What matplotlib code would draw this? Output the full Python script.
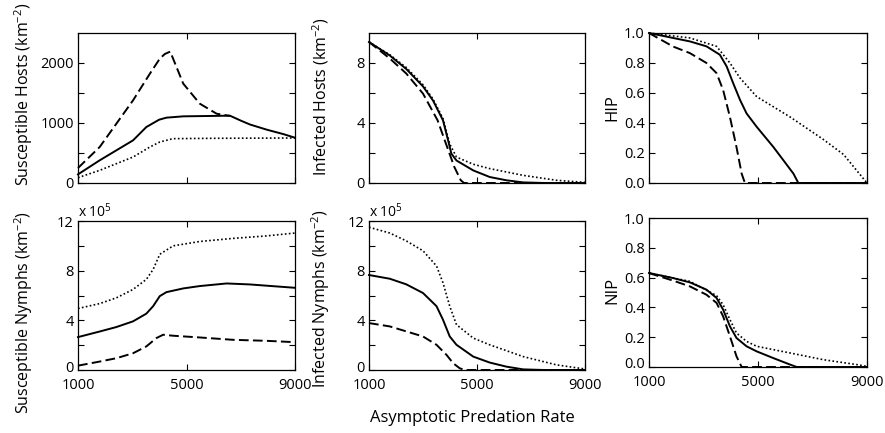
import numpy as np
import matplotlib
matplotlib.use("Agg")
import matplotlib.pyplot as plt
import matplotlib.transforms as mtransforms

plt.rcParams['font.family'] = ['Open Sans', 'DejaVu Sans']
plt.rcParams['mathtext.fontset'] = 'custom'
plt.rcParams['mathtext.rm'] = 'Open Sans'
plt.rcParams['mathtext.it'] = 'Open Sans'

# ---------------------------------------------------------------------------
# Data (x = asymptotic predation rate)
# ---------------------------------------------------------------------------
# Susceptible Hosts (km^-2)
sh_solid_x = [1000, 1800, 3030, 3520, 3990, 4260, 4880, 6600, 7000, 7340, 7950, 8570, 9000]
sh_solid_y = [144, 378, 711, 933, 1055, 1089, 1111, 1122, 1040, 975, 890, 815, 755]
sh_dash_x = [1000, 1800, 3030, 3650, 4015, 4200, 4400, 4880, 5490, 6110, 6600]
sh_dash_y = [250, 600, 1378, 1822, 2072, 2150, 2190, 1656, 1322, 1155, 1118]
sh_dot_x = [1000, 1800, 3030, 3650, 4015, 4500, 6000, 9000]
sh_dot_y = [89, 211, 433, 600, 683, 739, 745, 750]

# Infected Hosts (km^-2)
ih_solid_x = [1000, 1770, 2380, 3000, 3370, 3740, 3930, 4050, 4240, 4860, 5470, 6090, 6710, 7500, 9000]
ih_solid_y = [9.4, 8.5, 7.6, 6.44, 5.5, 4.18, 2.84, 1.96, 1.5, 0.84, 0.4, 0.18, 0.04, 0, 0]
ih_dash_x = [1000, 1770, 2380, 3000, 3540, 3850, 4160, 4400, 4520, 9000]
ih_dash_y = [9.4, 8.3, 7.3, 5.96, 4.18, 2.62, 1.07, 0.18, 0, 0]
ih_dot_x = [1000, 1770, 2380, 3000, 3370, 3740, 3990, 4240, 4860, 5470, 6710, 7950, 9000]
ih_dot_y = [9.4, 8.55, 7.7, 6.55, 5.6, 4.3, 2.6, 1.73, 1.25, 0.96, 0.51, 0.18, 0.04]

# HIP
hip_solid_x = [1000, 1880, 2500, 3110, 3600, 3850, 4090, 4340, 4580, 4950, 5560, 5930, 6300, 6480, 9000]
hip_solid_y = [1.0, 0.967, 0.944, 0.911, 0.855, 0.777, 0.665, 0.554, 0.464, 0.375, 0.241, 0.152, 0.0625, 0, 0]
hip_dash_x = [1000, 1880, 2500, 3110, 3480, 3720, 3970, 4210, 4400, 4520, 9000]
hip_dash_y = [1.0, 0.91, 0.866, 0.8, 0.732, 0.62, 0.44, 0.24, 0.0625, 0, 0]
hip_dot_x = [1000, 2500, 3480, 3970, 4340, 4950, 6180, 7400, 8140, 9000]
hip_dot_y = [1.0, 0.967, 0.911, 0.8, 0.70, 0.576, 0.44, 0.29, 0.19, 0.0]

# Susceptible Nymphs (x 10^5 km^-2)
sn_solid_x = [1000, 1800, 2415, 3030, 3520, 3770, 4015, 4260, 4880, 5490, 6480, 7340, 9000]
sn_solid_y = [2.65, 3.1, 3.46, 3.92, 4.54, 5.14, 5.95, 6.27, 6.57, 6.76, 6.97, 6.89, 6.62]
sn_dash_x = [1000, 1800, 2415, 3030, 3520, 3890, 4140, 4510, 5490, 6720, 7950, 9000]
sn_dash_y = [0.35, 0.68, 0.95, 1.35, 1.9, 2.57, 2.84, 2.76, 2.62, 2.43, 2.35, 2.24]
sn_dot_x = [1000, 1800, 2415, 3030, 3520, 3770, 4015, 4510, 5490, 6720, 7950, 9000]
sn_dot_y = [4.95, 5.35, 5.81, 6.49, 7.3, 8.1, 9.32, 10.0, 10.35, 10.6, 10.8, 11.03]

# Infected Nymphs (x 10^5 km^-2)
in_solid_x = [1000, 1770, 2380, 3000, 3500, 3740, 3990, 4240, 4860, 5470, 6090, 6710, 7500, 9000]
in_solid_y = [7.65, 7.35, 6.9, 6.2, 5.14, 4.05, 2.7, 2.03, 1.08, 0.6, 0.27, 0.05, 0, 0]
in_dash_x = [1000, 1770, 2380, 3000, 3500, 3870, 4120, 4360, 4550, 9000]
in_dash_y = [3.78, 3.51, 3.11, 2.7, 2.03, 1.22, 0.54, 0.14, 0, 0]
in_dot_x = [1000, 1770, 2380, 3000, 3500, 3740, 3990, 4240, 4860, 5470, 6710, 7950, 9000]
in_dot_y = [11.5, 11.03, 10.4, 9.6, 8.38, 7.03, 5.14, 3.65, 2.57, 2.03, 1.08, 0.41, 0.08]

# NIP
nip_solid_x = [1000, 1880, 2500, 3110, 3480, 3720, 3970, 4210, 4580, 4950, 5560, 6180, 6420, 9000]
nip_solid_y = [0.631, 0.597, 0.568, 0.519, 0.463, 0.385, 0.273, 0.195, 0.139, 0.105, 0.06, 0.016, 0, 0]
nip_dash_x = [1000, 1880, 2500, 3110, 3480, 3720, 3970, 4210, 4400, 9000]
nip_dash_y = [0.63, 0.58, 0.541, 0.485, 0.43, 0.34, 0.206, 0.072, 0, 0]
nip_dot_x = [1000, 2500, 3480, 3720, 3970, 4210, 4580, 4950, 6180, 7400, 8630, 9000]
nip_dot_y = [0.63, 0.575, 0.479, 0.418, 0.318, 0.228, 0.172, 0.139, 0.094, 0.049, 0.016, 0.004]

# ---------------------------------------------------------------------------
W, H = 885, 433
fig = plt.figure(figsize=(W / 100, H / 100), dpi=100)


def px_axes(x0, y0, x1, y1):
    # pixel box (left, top, right, bottom) -> figure axes
    return fig.add_axes([x0 / W, 1 - y1 / H, (x1 - x0) / W, (y1 - y0) / H])


def style(ax, ylim, yticks, ylabels, show_x):
    ax.set_xlim(1000, 9000)
    ax.set_ylim(*ylim)
    ax.set_xticks([1000, 5000, 9000])
    ax.set_xticklabels(['1000', '5000', '9000'] if show_x else [])
    ax.set_yticks(yticks)
    ax.set_yticklabels(ylabels)
    ax.tick_params(direction='in', length=4, width=0.8, top=True, right=True,
                   labelsize=10.5)
    ax.tick_params(axis='y', pad=3)
    ax.tick_params(axis='x', pad=6)
    for s in ax.spines.values():
        s.set_linewidth(0.9)
    if show_x:
        # lift the lowest y label a little so it clears the x labels
        lab = ax.get_yticklabels()[0]
        lab.set_transform(lab.get_transform() +
                          mtransforms.ScaledTranslation(0, 4 / 100, fig.dpi_scale_trans))


def draw(ax, solid, dash, dot):
    ax.plot(dot[0], dot[1], color='k', lw=1.2, dashes=(1, 1.4), clip_on=False)
    ax.plot(dash[0], dash[1], color='k', lw=1.4, dashes=(5, 2.2), clip_on=False)
    ax.plot(solid[0], solid[1], color='k', lw=1.4, clip_on=False)


# top row
ax1 = px_axes(78, 33, 295, 183)
draw(ax1, (sh_solid_x, sh_solid_y), (sh_dash_x, sh_dash_y), (sh_dot_x, sh_dot_y))
style(ax1, (0, 2500), [0, 500, 1000, 1500, 2000], ['0', '', '1000', '', '2000'], False)

ax2 = px_axes(369, 33, 585, 183)
draw(ax2, (ih_solid_x, ih_solid_y), (ih_dash_x, ih_dash_y), (ih_dot_x, ih_dot_y))
style(ax2, (0, 10), [0, 2, 4, 6, 8], ['0', '', '4', '', '8'], False)

ax3 = px_axes(649, 33, 867, 183)
draw(ax3, (hip_solid_x, hip_solid_y), (hip_dash_x, hip_dash_y), (hip_dot_x, hip_dot_y))
style(ax3, (0, 1), np.arange(0, 1.01, 0.2), ['0.0', '0.2', '0.4', '0.6', '0.8', '1.0'], False)

# bottom row
ax4 = px_axes(78, 221, 295, 370)
draw(ax4, (sn_solid_x, sn_solid_y), (sn_dash_x, sn_dash_y), (sn_dot_x, sn_dot_y))
style(ax4, (0, 12), [0, 2, 4, 6, 8, 10, 12], ['0', '', '4', '', '8', '', '12'], True)

ax5 = px_axes(369, 221, 585, 370)
draw(ax5, (in_solid_x, in_solid_y), (in_dash_x, in_dash_y), (in_dot_x, in_dot_y))
style(ax5, (0, 12), [0, 2, 4, 6, 8, 10, 12], ['0', '', '4', '', '8', '', '12'], True)

ax6 = px_axes(649, 218, 867, 367)
draw(ax6, (nip_solid_x, nip_solid_y), (nip_dash_x, nip_dash_y), (nip_dot_x, nip_dot_y))
style(ax6, (0, 1), np.arange(0, 1.01, 0.2), ['0.0', '0.2', '0.4', '0.6', '0.8', '1.0'], True)

for ax in (ax4, ax5):
    ax.text(0.0, 1.0, r'x 10$^{5}$', transform=ax.transAxes, fontsize=10,
            ha='left', va='bottom')

# y labels (bottom end of text placed as in the reference)
lab_kw = dict(rotation=90, ha='center', va='bottom', fontsize=11.5)
fig.text(24 / W, 1 - 186 / H, r'Susceptible Hosts (km$^{-2}$)', **lab_kw)
fig.text(321 / W, 1 - 176 / H, r'Infected Hosts (km$^{-2}$)', **lab_kw)
fig.text(612 / W, 1 - 108 / H, 'HIP', rotation=90, ha='center', va='center', fontsize=12)
fig.text(24 / W, 1 - 414 / H, r'Susceptible Nymphs (km$^{-2}$)', **lab_kw)
fig.text(321 / W, 1 - 388 / H, r'Infected Nymphs (km$^{-2}$)', **lab_kw)
fig.text(612 / W, 1 - 290 / H, 'NIP', rotation=90, ha='center', va='center', fontsize=12)

fig.text(472 / W, 1 - 418 / H, 'Asymptotic Predation Rate', ha='center', va='center',
         fontsize=12)

fig.savefig('out.png', dpi=100)
